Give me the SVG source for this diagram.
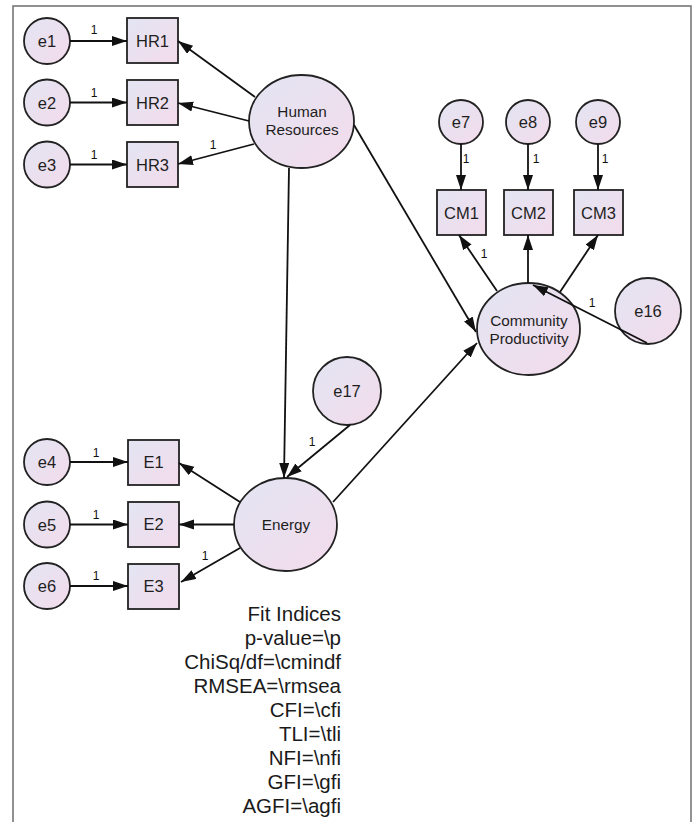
<svg xmlns="http://www.w3.org/2000/svg" width="699" height="822" viewBox="0 0 699 822">
<defs>
<linearGradient id="g" x1="0" y1="0" x2="1" y2="1">
<stop offset="0" stop-color="#e3e5f3"/>
<stop offset="1" stop-color="#f3dbeb"/>
</linearGradient>
<marker id="ah" markerUnits="userSpaceOnUse" markerWidth="16" markerHeight="12" refX="15" refY="5" orient="auto">
<path d="M0,0 L15,5 L0,10 z" fill="#111"/>
</marker>
<style>
.n{fill:url(#g);stroke:#222;stroke-width:1.8}
.t{font-family:"Liberation Sans",Arial,sans-serif;font-size:16.5px;fill:#1e1e1e;text-anchor:middle}
.lt{font-family:"Liberation Sans",Arial,sans-serif;font-size:15.3px;fill:#1e1e1e;text-anchor:middle}
.one{font-family:"Liberation Sans",Arial,sans-serif;font-size:12px;fill:#111;text-anchor:middle}
.c line{stroke:#111;stroke-width:1.8;marker-end:url(#ah)}
.fit{font-family:"Liberation Sans",Arial,sans-serif;font-size:20.5px;fill:#1a1a1a;text-anchor:end}
</style>
</defs>
<rect x="0" y="0" width="699" height="822" fill="#fff"/>
<rect x="13" y="6" width="678" height="840" fill="none" stroke="#777" stroke-width="1.6"/>

<g id="e1"><circle class="n" cx="47" cy="41" r="23"/><text class="t" x="47" y="47">e1</text></g>
<g id="e2"><circle class="n" cx="47" cy="102.5" r="23"/><text class="t" x="47" y="108.5">e2</text></g>
<g id="e3"><circle class="n" cx="47" cy="164.5" r="23"/><text class="t" x="47" y="170.5">e3</text></g>
<g id="HR1"><rect class="n" x="127" y="18" width="51" height="45"/><text class="t" x="152.5" y="46.5">HR1</text></g>
<g id="HR2"><rect class="n" x="127" y="80" width="51" height="45"/><text class="t" x="152.5" y="108.5">HR2</text></g>
<g id="HR3"><rect class="n" x="127" y="142" width="51" height="45"/><text class="t" x="152.5" y="170.5">HR3</text></g>
<g id="HumanResources"><ellipse class="n" cx="301.5" cy="121.5" rx="52.5" ry="46.5"/><text class="lt" x="302" y="117">Human</text><text class="lt" x="302" y="135">Resources</text></g>

<g id="e7"><circle class="n" cx="461" cy="122" r="22"/><text class="t" x="461" y="128">e7</text></g>
<g id="e8"><circle class="n" cx="528" cy="122" r="22"/><text class="t" x="528" y="128">e8</text></g>
<g id="e9"><circle class="n" cx="598" cy="122" r="22"/><text class="t" x="598" y="128">e9</text></g>
<g id="CM1"><rect class="n" x="437" y="190" width="49" height="45"/><text class="t" x="461.5" y="218.5">CM1</text></g>
<g id="CM2"><rect class="n" x="504" y="190" width="49" height="45"/><text class="t" x="528.5" y="218.5">CM2</text></g>
<g id="CM3"><rect class="n" x="574" y="190" width="49" height="45"/><text class="t" x="598.5" y="218.5">CM3</text></g>
<g id="CommunityProductivity"><ellipse class="n" cx="528.5" cy="329" rx="51.5" ry="46"/><text class="lt" x="529" y="326">Community</text><text class="lt" x="529" y="344">Productivity</text></g>
<g id="e16"><circle class="n" cx="648" cy="311" r="33"/><text class="t" x="648" y="317">e16</text></g>

<g id="e17"><circle class="n" cx="347" cy="391" r="34"/><text class="t" x="347" y="397">e17</text></g>
<g id="Energy"><ellipse class="n" cx="285.5" cy="524.5" rx="51.5" ry="46.5"/><text class="lt" x="286" y="530">Energy</text></g>
<g id="e4"><circle class="n" cx="47" cy="462" r="23"/><text class="t" x="47" y="468">e4</text></g>
<g id="e5"><circle class="n" cx="47" cy="524.5" r="23"/><text class="t" x="47" y="530.5">e5</text></g>
<g id="e6"><circle class="n" cx="47" cy="586" r="23"/><text class="t" x="47" y="592">e6</text></g>
<g id="E1"><rect class="n" x="128" y="440" width="51" height="45"/><text class="t" x="153.5" y="468">E1</text></g>
<g id="E2"><rect class="n" x="128" y="502" width="51" height="45"/><text class="t" x="153.5" y="530">E2</text></g>
<g id="E3"><rect class="n" x="128" y="564" width="51" height="45"/><text class="t" x="153.5" y="592">E3</text></g>

<g class="c" id="connectors">
<line x1="70" y1="41" x2="127" y2="41"/>
<line x1="70" y1="102.5" x2="127" y2="102.5"/>
<line x1="70" y1="164.5" x2="127" y2="164.5"/>
<line x1="255" y1="97" x2="178" y2="41"/>
<line x1="249" y1="121" x2="178" y2="103"/>
<line x1="254" y1="144" x2="178" y2="164"/>
<line x1="289" y1="168" x2="284" y2="478"/>
<line x1="354" y1="125" x2="476" y2="332"/>
<line x1="240" y1="502" x2="179" y2="463"/>
<line x1="234" y1="524.5" x2="179" y2="524.5"/>
<line x1="240" y1="548" x2="181" y2="582"/>
<line x1="70" y1="462" x2="128" y2="462"/>
<line x1="70" y1="524.5" x2="128" y2="524.5"/>
<line x1="70" y1="586" x2="128" y2="586"/>
<line x1="350" y1="425" x2="287" y2="477"/>
<line x1="333" y1="502" x2="477" y2="343"/>
<line x1="497" y1="291" x2="459" y2="235"/>
<line x1="528" y1="283" x2="528" y2="235"/>
<line x1="560" y1="292" x2="598" y2="235"/>
<line x1="461" y1="144" x2="461" y2="190"/>
<line x1="528" y1="144" x2="528" y2="190"/>
<line x1="598" y1="144" x2="598" y2="190"/>
<line x1="647" y1="343" x2="533" y2="285"/>
</g>

<g id="labels">
<text class="one" x="94" y="34">1</text>
<text class="one" x="94" y="97">1</text>
<text class="one" x="94" y="159">1</text>
<text class="one" x="213" y="149">1</text>
<text class="one" x="96" y="457">1</text>
<text class="one" x="96" y="519">1</text>
<text class="one" x="96" y="580">1</text>
<text class="one" x="205" y="560">1</text>
<text class="one" x="312" y="446">1</text>
<text class="one" x="484" y="258">1</text>
<text class="one" x="466" y="163">1</text>
<text class="one" x="536" y="163">1</text>
<text class="one" x="605" y="163">1</text>
<text class="one" x="592" y="307">1</text>
</g>

<g id="fit">
<text class="fit" x="341" y="621">Fit Indices</text>
<text class="fit" x="341" y="645">p-value=\p</text>
<text class="fit" x="341" y="669">ChiSq/df=\cmindf</text>
<text class="fit" x="341" y="693">RMSEA=\rmsea</text>
<text class="fit" x="341" y="717">CFI=\cfi</text>
<text class="fit" x="341" y="741">TLI=\tli</text>
<text class="fit" x="341" y="765">NFI=\nfi</text>
<text class="fit" x="341" y="789">GFI=\gfi</text>
<text class="fit" x="341" y="813">AGFI=\agfi</text>
</g>
</svg>
